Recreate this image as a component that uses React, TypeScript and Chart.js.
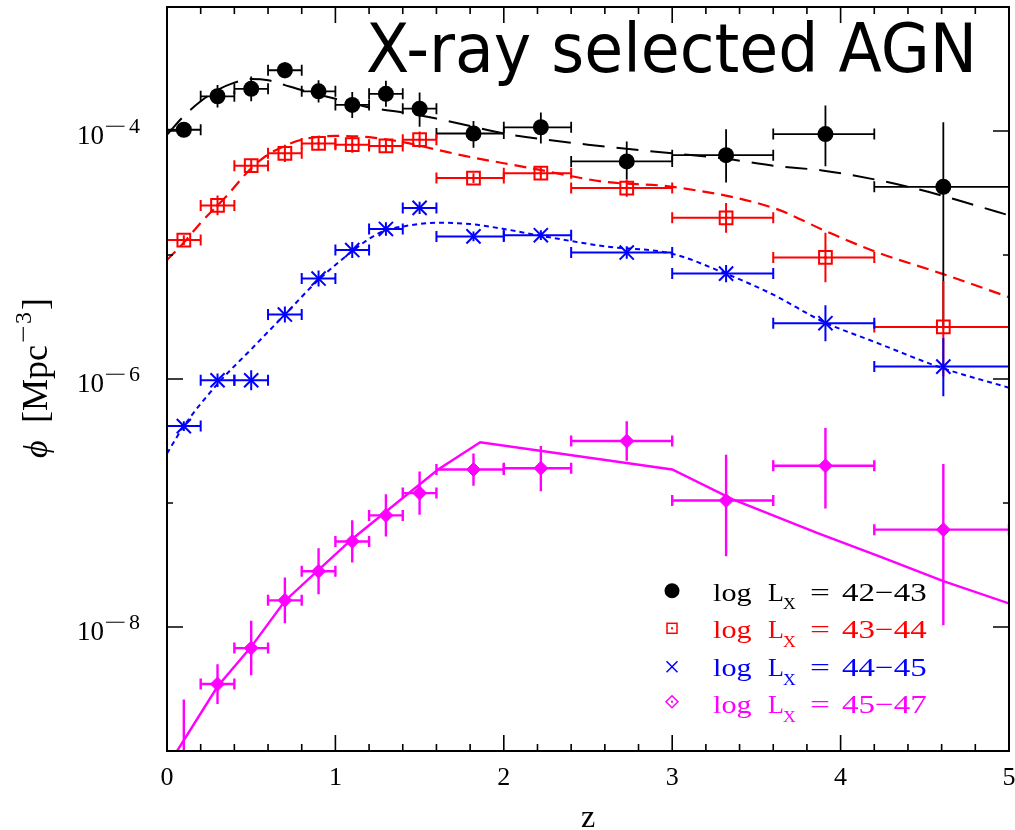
import React, { useEffect, useRef } from "react";
import { Chart, registerables } from "chart.js";

Chart.register(...registerables);

// ---------- data ----------
// redshift bins shared by all luminosity classes
const zCenters = [0.1, 0.3, 0.5, 0.7, 0.9, 1.1, 1.3, 1.5, 1.82, 2.22, 2.73, 3.32, 3.91, 4.61];
const zLow = [0, 0.2, 0.4, 0.6, 0.8, 1.0, 1.2, 1.4, 1.6, 2.0, 2.4, 3.0, 3.6, 4.2];
const zHigh = [0.2, 0.4, 0.6, 0.8, 1.0, 1.2, 1.4, 1.6, 2.0, 2.4, 3.0, 3.6, 4.2, 5.0];

// log10(phi / Mpc^-3) and asymmetric errors in dex
const logPhi4243 = [-3.99, -3.72, -3.66, -3.51, -3.68, -3.79, -3.7, -3.82, -4.02, -3.97, -4.245, -4.195, -4.025, -4.45];
const errUp4243 = [0.04, 0.09, 0.1, 0.065, 0.09, 0.105, 0.105, 0.13, 0.1, 0.12, 0.16, 0.21, 0.23, 0.52];
const errDn4243 = [0.04, 0.09, 0.1, 0.065, 0.09, 0.105, 0.105, 0.145, 0.115, 0.13, 0.145, 0.22, 0.26, 1.15];

const logPhi4344 = [-4.88, -4.6, -4.28, -4.18, -4.1, -4.11, -4.12, -4.07, -4.38, -4.34, -4.46, -4.7, -5.02, -5.58];
const errUp4344 = [0.04, 0.08, 0.055, 0.07, 0.055, 0.065, 0.05, 0.065, 0.04, 0.055, 0.07, 0.12, 0.2, 0.37];
const errDn4344 = [0.04, 0.08, 0.055, 0.07, 0.055, 0.065, 0.05, 0.065, 0.04, 0.055, 0.07, 0.12, 0.2, 0.4];

const logPhi4445 = [-6.38, -6.01, -6.01, -5.48, -5.19, -4.96, -4.79, -4.62, -4.85, -4.84, -4.98, -5.15, -5.55, -5.9];
const errUp4445 = [0.04, 0.055, 0.08, 0.065, 0.065, 0.065, 0.055, 0.05, 0.04, 0.04, 0.05, 0.07, 0.145, 0.23];
const errDn4445 = [0.04, 0.055, 0.08, 0.065, 0.065, 0.065, 0.055, 0.05, 0.04, 0.04, 0.05, 0.07, 0.145, 0.24];

const logPhi4547 = [-9.15, -8.46, -8.17, -7.785, -7.55, -7.31, -7.1, -6.92, -6.73, -6.72, -6.5, -6.98, -6.7, -7.215];
const errUp4547 = [0.565, 0.16, 0.22, 0.185, 0.185, 0.17, 0.17, 0.175, 0.13, 0.18, 0.16, 0.37, 0.305, 0.53];
const errDn4547 = [0.3, 0.16, 0.22, 0.185, 0.185, 0.17, 0.17, 0.175, 0.13, 0.185, 0.16, 0.45, 0.345, 0.77];

// model curves
const curveZ4243 = [0, 0.1, 0.2, 0.3, 0.4, 0.5, 0.6, 0.7, 0.8, 1.0, 1.2, 1.4, 1.6, 1.8, 2.0, 2.5, 3.0, 3.3, 3.6, 3.9, 4.2, 4.4, 4.6, 4.8, 5.0];
const curveLog4243 = [-4.03, -3.88, -3.76, -3.67, -3.61, -3.58, -3.59, -3.63, -3.67, -3.74, -3.81, -3.85, -3.9, -3.96, -4.02, -4.11, -4.18, -4.22, -4.28, -4.32, -4.39, -4.45, -4.52, -4.6, -4.68];

const curveZ4344 = [0, 0.1, 0.2, 0.35, 0.5, 0.6, 0.7, 0.8, 1.0, 1.2, 1.4, 1.6, 1.8, 2.0, 2.2, 2.6, 3.0, 3.6, 3.9, 4.2, 4.6, 5.0];
const curveLog4344 = [-5.04, -4.9, -4.74, -4.53, -4.3, -4.19, -4.12, -4.07, -4.04, -4.05, -4.09, -4.15, -4.21, -4.26, -4.31, -4.41, -4.45, -4.62, -4.8, -4.97, -5.15, -5.34];

const curveZ4445 = [0, 0.1, 0.3, 0.5, 0.7, 0.9, 1.1, 1.2, 1.3, 1.4, 1.6, 1.8, 2.0, 2.2, 2.6, 3.0, 3.3, 3.6, 3.9, 4.2, 4.6, 5.0];
const curveLog4445 = [-6.6, -6.38, -6.04, -5.76, -5.48, -5.2, -4.97, -4.87, -4.8, -4.77, -4.74, -4.75, -4.79, -4.84, -4.93, -4.99, -5.14, -5.32, -5.54, -5.7, -5.91, -6.07];

const curveZ4547 = [0, 0.06, 0.3, 0.5, 0.7, 0.9, 1.1, 1.4, 1.61, 1.86, 3.0, 3.36, 3.86, 4.25, 4.61, 5.0];
const curveLog4547 = [-9.13, -9.0, -8.48, -8.16, -7.79, -7.54, -7.29, -6.96, -6.73, -6.51, -6.73, -6.97, -7.24, -7.44, -7.63, -7.81];

// axes
const xTickValues = [0, 1, 2, 3, 4, 5];
const yDecades = [-9, -8, -7, -6, -5, -4, -3];
const yLabelDecades = [-8, -6, -4];

const legendRanges = ["42\u221243", "43\u221244", "44\u221245", "45\u221247"];
const seriesColors = ["#000000", "#ff0000", "#0000ff", "#ff00ff"];
const titleText = "X-ray selected AGN";

// ---------- helpers ----------
const toPhi = (v: number) => Math.pow(10, v);

const markerSeries = [
  { logPhi: logPhi4243, up: errUp4243, dn: errDn4243, color: seriesColors[0], lw: 1.8 },
  { logPhi: logPhi4344, up: errUp4344, dn: errDn4344, color: seriesColors[1], lw: 2 },
  { logPhi: logPhi4445, up: errUp4445, dn: errDn4445, color: seriesColors[2], lw: 2 },
  { logPhi: logPhi4547, up: errUp4547, dn: errDn4547, color: seriesColors[3], lw: 2.4 },
];

function drawText(
  ctx: CanvasRenderingContext2D,
  s: string,
  x: number,
  y: number,
  font: string,
  color: string,
  sx = 1,
  align: CanvasTextAlign = "left"
) {
  ctx.save();
  ctx.font = font;
  ctx.fillStyle = color;
  ctx.textAlign = align;
  ctx.textBaseline = "alphabetic";
  ctx.translate(x, y);
  ctx.scale(sx, 1);
  ctx.fillText(s, 0, 0);
  ctx.restore();
}

const SERIF = "'Liberation Serif', 'Times New Roman', serif";

const decorPlugin = {
  id: "decor",
  beforeDatasetDraw(chart: any, args: any) {
    const si = args.index - 4;
    if (si < 0 || si > 3) return;
    const s = markerSeries[si];
    const { ctx, chartArea } = chart;
    const xs = chart.scales.x;
    const ys = chart.scales.y;
    ctx.save();
    ctx.beginPath();
    ctx.rect(chartArea.left, chartArea.top, chartArea.right - chartArea.left, chartArea.bottom - chartArea.top);
    ctx.clip();
    ctx.strokeStyle = s.color;
    ctx.lineWidth = s.lw;
    ctx.lineCap = "butt";
    for (let i = 0; i < zCenters.length; i++) {
      const px = xs.getPixelForValue(zCenters[i]);
      const py = ys.getPixelForValue(toPhi(s.logPhi[i]));
      const x0 = xs.getPixelForValue(zLow[i]);
      const x1 = xs.getPixelForValue(zHigh[i]);
      const yt = ys.getPixelForValue(toPhi(s.logPhi[i] + s.up[i]));
      const yb = ys.getPixelForValue(toPhi(s.logPhi[i] - s.dn[i]));
      ctx.beginPath();
      ctx.moveTo(x0, py);
      ctx.lineTo(x1, py);
      ctx.moveTo(x0, py - 5.5);
      ctx.lineTo(x0, py + 5.5);
      ctx.moveTo(x1, py - 5.5);
      ctx.lineTo(x1, py + 5.5);
      ctx.moveTo(px, yt);
      ctx.lineTo(px, yb);
      ctx.stroke();
    }
    ctx.restore();
  },
  afterDatasetDraw(chart: any, args: any) {
    if (args.index !== 5) return;
    const { ctx } = chart;
    const xs = chart.scales.x;
    const ys = chart.scales.y;
    ctx.save();
    ctx.fillStyle = seriesColors[1];
    for (let i = 0; i < zCenters.length; i++) {
      const px = xs.getPixelForValue(zCenters[i]);
      const py = ys.getPixelForValue(toPhi(logPhi4344[i]));
      ctx.fillRect(px - 1.2, py - 1.2, 2.4, 2.4);
    }
    ctx.restore();
  },
  afterDraw(chart: any) {
    const { ctx, chartArea } = chart;
    const { left, right, top, bottom } = chartArea;
    const xs = chart.scales.x;
    const ys = chart.scales.y;
    ctx.save();
    // ticks
    ctx.strokeStyle = "#000";
    ctx.lineWidth = 1.6;
    ctx.beginPath();
    for (let k = 0; k <= 25; k++) {
      const v = k * 0.2;
      const px = xs.getPixelForValue(v);
      const len = k % 5 === 0 ? 16 : 7;
      ctx.moveTo(px, bottom);
      ctx.lineTo(px, bottom - len);
      ctx.moveTo(px, top);
      ctx.lineTo(px, top + len);
    }
    yDecades.forEach((d) => {
      const py = ys.getPixelForValue(toPhi(d));
      const len = yLabelDecades.includes(d) ? 16 : 6;
      ctx.moveTo(left, py);
      ctx.lineTo(left + len, py);
      ctx.moveTo(right, py);
      ctx.lineTo(right - len, py);
    });
    ctx.stroke();
    // frame
    ctx.lineWidth = 2;
    ctx.strokeRect(left, top, right - left, bottom - top);

    // x tick labels
    xTickValues.forEach((v) => {
      drawText(ctx, String(v), xs.getPixelForValue(v), bottom + 34, `26px ${SERIF}`, "#000", 1, "center");
    });
    // y tick labels 10^-n
    yLabelDecades.forEach((d) => {
      const py = ys.getPixelForValue(toPhi(d));
      drawText(ctx, "10", left - 90, py + 12.5, `27px ${SERIF}`, "#000");
      drawText(ctx, "\u2212", left - 63, py + 2, `21px ${SERIF}`, "#000", 1.9);
      drawText(ctx, String(-d), left - 38, py + 2, `22px ${SERIF}`, "#000");
    });
    // axis titles
    drawText(ctx, "z", xs.getPixelForValue(2.5), bottom + 76, `32px ${SERIF}`, "#000", 1, "center");
    ctx.save();
    ctx.translate(47, 458);
    ctx.rotate(-Math.PI / 2);
    drawText(ctx, "\u03d5", 0, 0, `italic 34px ${SERIF}`, "#000");
    drawText(ctx, "[", 35, 0, `36px ${SERIF}`, "#000");
    drawText(ctx, "Mpc", 47, 0, `36px ${SERIF}`, "#000");
    drawText(ctx, "\u2212", 115, -16, `24px ${SERIF}`, "#000", 1.3);
    drawText(ctx, "3", 134, -16, `24px ${SERIF}`, "#000");
    drawText(ctx, "]", 148, 0, `36px ${SERIF}`, "#000");
    ctx.restore();

    // title
    ctx.save();
    ctx.font = "68px 'DejaVu Sans', sans-serif";
    const tw = ctx.measureText(titleText).width;
    ctx.restore();
    drawText(ctx, titleText, 977, 72, "68px 'DejaVu Sans', sans-serif", "#000", 611 / tw, "right");

    // legend
    const symX = 672;
    const rowBase = [600.7, 638.3, 676, 713.3];
    const symY = [590.7, 628.3, 666.7, 701.7];
    for (let r = 0; r < 4; r++) {
      const c = seriesColors[r];
      const b = rowBase[r];
      const sy = symY[r];
      ctx.save();
      ctx.strokeStyle = c;
      ctx.fillStyle = c;
      ctx.lineWidth = 1.5;
      if (r === 0) {
        ctx.beginPath();
        ctx.arc(symX, sy, 7.5, 0, Math.PI * 2);
        ctx.fill();
      } else if (r === 1) {
        ctx.strokeRect(symX - 5, sy - 5, 10, 10);
        ctx.fillRect(symX - 1, sy - 1, 2, 2);
      } else if (r === 2) {
        ctx.beginPath();
        ctx.moveTo(symX - 5.5, sy - 5.5);
        ctx.lineTo(symX + 5.5, sy + 5.5);
        ctx.moveTo(symX + 5.5, sy - 5.5);
        ctx.lineTo(symX - 5.5, sy + 5.5);
        ctx.stroke();
      } else {
        ctx.beginPath();
        ctx.moveTo(symX, sy - 6);
        ctx.lineTo(symX + 6, sy);
        ctx.lineTo(symX, sy + 6);
        ctx.lineTo(symX - 6, sy);
        ctx.closePath();
        ctx.stroke();
        ctx.fillRect(symX - 1, sy - 1, 2, 2);
      }
      ctx.restore();
      drawText(ctx, "log", 713, b, `26px ${SERIF}`, c, 1.16);
      drawText(ctx, "L", 768, b, `26px ${SERIF}`, c);
      drawText(ctx, "X", 783, b + 8.5, `16px ${SERIF}`, c, 1.1);
      drawText(ctx, "=", 810, b, `26px ${SERIF}`, c, 1.36);
      drawText(ctx, legendRanges[r], 842, b, `26px ${SERIF}`, c, 1.27);
    }
    ctx.restore();
  },
};

export default function App() {
  const canvasRef = useRef<HTMLCanvasElement | null>(null);

  useEffect(() => {
    if (!canvasRef.current) return;
    const pts = (zs: number[], ls: number[]) => zs.map((z, i) => ({ x: z, y: toPhi(ls[i]) }));
    const curve = (zs: number[], ls: number[], color: string, dash: number[], width: number, smooth: boolean) => ({
      type: "scatter" as const,
      data: pts(zs, ls),
      showLine: true,
      borderColor: color,
      borderWidth: width,
      borderDash: dash,
      pointRadius: 0,
      fill: false,
      tension: 0,
      cubicInterpolationMode: smooth ? ("monotone" as const) : ("default" as const),
      order: 10,
      clip: 0,
    });
    const chart = new Chart(canvasRef.current, {
      type: "scatter",
      data: {
        datasets: [
          curve(curveZ4243, curveLog4243, seriesColors[0], [22, 12], 2, true),
          curve(curveZ4344, curveLog4344, seriesColors[1], [12, 7], 2.2, true),
          curve(curveZ4445, curveLog4445, seriesColors[2], [5, 4], 2, true),
          curve(curveZ4547, curveLog4547, seriesColors[3], [], 2.4, false),
          {
            data: pts(zCenters, logPhi4243),
            pointStyle: "circle",
            pointRadius: 8,
            backgroundColor: seriesColors[0],
            borderColor: seriesColors[0],
            borderWidth: 0,
            order: 4,
            clip: 0,
          },
          {
            data: pts(zCenters, logPhi4344),
            pointStyle: "rect",
            pointRadius: 9,
            backgroundColor: "rgba(0,0,0,0)",
            borderColor: seriesColors[1],
            borderWidth: 2,
            order: 3,
            clip: 0,
          },
          {
            data: pts(zCenters, logPhi4445),
            pointStyle: "crossRot",
            pointRadius: 10,
            backgroundColor: seriesColors[2],
            borderColor: seriesColors[2],
            borderWidth: 2,
            order: 2,
            clip: 0,
          },
          {
            data: pts(zCenters, logPhi4547),
            pointStyle: "rectRot",
            pointRadius: 7,
            backgroundColor: seriesColors[3],
            borderColor: seriesColors[3],
            borderWidth: 1,
            order: 1,
            clip: 0,
          },
        ] as any,
      },
      options: {
        animation: false,
        responsive: false,
        devicePixelRatio: 1,
        events: [],
        layout: { autoPadding: false, padding: { left: 167, top: 7, right: 6, bottom: 79 } },
        scales: {
          x: { type: "linear", min: 0, max: 5, display: false },
          y: { type: "logarithmic", min: 1e-9, max: 1e-3, display: false },
        },
        plugins: {
          legend: { display: false },
          tooltip: { enabled: false },
          title: { display: false },
        },
      },
      plugins: [decorPlugin],
    });
    return () => chart.destroy();
  }, []);

  return (
    <div style={{ position: "absolute", left: 0, top: 0, width: 1015, height: 830, background: "#fff" }}>
      <canvas ref={canvasRef} width={1015} height={830} style={{ width: 1015, height: 830, display: "block" }} />
    </div>
  );
}
